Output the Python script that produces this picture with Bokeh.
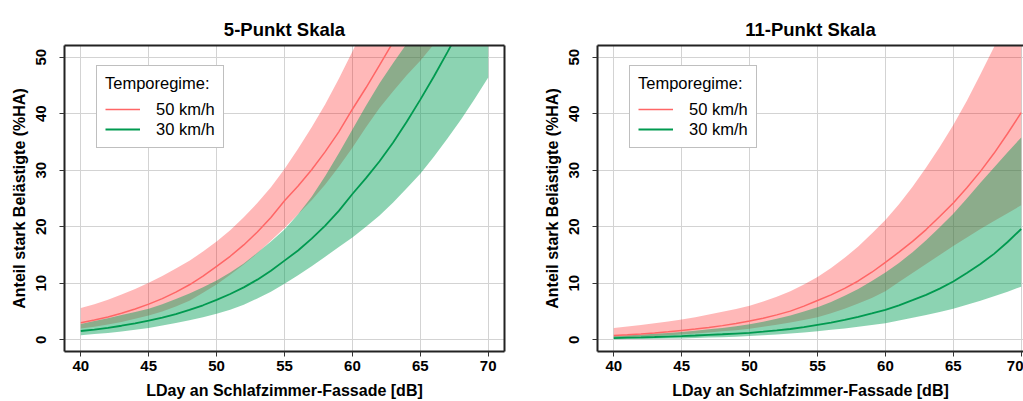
from bokeh.plotting import figure
from bokeh.layouts import row
from bokeh.models import Range1d, FixedTicker, Legend, LegendItem, LinearAxis
from bokeh.embed import file_html
from bokeh.resources import INLINE

# ---------------- data ----------------
ldb = [40, 41, 42, 43, 44, 45, 46, 47, 48, 49, 50, 51, 52, 53, 54, 55,
       56, 57, 58, 59, 60, 61, 62, 63, 64, 65, 66, 67, 68, 69, 70]
x_ticks = [40, 45, 50, 55, 60, 65, 70]
y_ticks = [0, 10, 20, 30, 40, 50]

# 5-Punkt Skala
p5_50_mid = [3.0, 3.48, 4.04, 4.68, 5.43, 6.3, 7.28, 8.42, 9.73, 11.25, 13.0, 14.77, 16.78, 19.06,
             21.65, 24.6, 27.2, 30.1, 33.3, 36.8, 40.8, 44.6, 48.6, 52.7, 56.8, 60.8, 64.6, 68.3,
             71.7, 74.9, 77.9]
p5_50_hi = [5.6, 6.3, 7.1, 8.0, 9.0, 10.1, 11.3, 12.6, 14.0, 15.6, 17.4, 19.4, 21.7, 24.2, 27.0,
            30.2, 33.8, 37.6, 41.7, 46.2, 51.0, 56.0, 61.0, 66.0, 70.5, 75.0, 79.0, 82.5, 85.5,
            88.0, 90.0]
p5_50_lo = [2.0, 2.3, 2.7, 3.15, 3.7, 4.3, 5.0, 5.9, 6.9, 8.3, 9.8, 11.5, 13.3, 15.3, 17.5, 19.8,
            22.2, 24.7, 27.5, 30.6, 34.0, 37.6, 41.0, 44.0, 46.8, 49.4, 52.3, 55.0, 57.7, 60.3, 63.0]
p5_30_mid = [1.55, 1.81, 2.12, 2.48, 2.9, 3.4, 3.93, 4.55, 5.27, 6.1, 7.05, 8.09, 9.27, 10.64,
             12.2, 14.0, 15.8, 17.9, 20.2, 22.8, 25.8, 28.6, 31.6, 34.9, 38.6, 42.5, 46.6, 50.9,
             55.4, 59.8, 64.0]
p5_30_hi = [2.8, 3.3, 3.8, 4.4, 4.9, 5.5, 6.3, 7.2, 8.2, 9.3, 10.5, 11.9, 13.5, 15.4, 17.4, 19.5,
            22.2, 25.3, 29.0, 33.0, 37.2, 41.4, 45.4, 49.0, 52.4, 55.6, 58.7, 61.6, 64.4, 67.0, 69.5]
p5_30_lo = [0.8, 1.0, 1.2, 1.45, 1.75, 2.1, 2.5, 2.95, 3.45, 4.0, 4.6, 5.3, 6.2, 7.3, 8.5, 9.9,
            11.4, 13.0, 14.7, 16.4, 18.1, 20.0, 22.0, 24.3, 26.8, 29.4, 32.4, 35.6, 39.0, 42.6, 46.4]

# 11-Punkt Skala
p11_50_mid = [0.76, 0.88, 1.02, 1.18, 1.4, 1.65, 1.9, 2.18, 2.5, 2.87, 3.3, 3.82, 4.4, 5.07, 5.95,
              6.95, 7.95, 9.1, 10.4, 11.95, 13.7, 15.5, 17.4, 19.5, 21.8, 24.2, 26.9, 29.8, 33.0,
              36.5, 40.2]
p11_50_hi = [2.1, 2.35, 2.6, 2.9, 3.25, 3.6, 4.0, 4.45, 4.95, 5.45, 6.0, 6.75, 7.6, 8.6, 9.8, 11.1,
             12.7, 14.5, 16.5, 18.8, 21.2, 24.0, 27.1, 30.5, 34.1, 38.0, 42.3, 47.0, 51.8, 57.0, 62.0]
p11_50_lo = [0.35, 0.45, 0.55, 0.67, 0.8, 0.94, 1.1, 1.3, 1.5, 1.7, 1.94, 2.3, 2.65, 3.05, 3.5,
             4.0, 4.7, 5.5, 6.4, 7.4, 8.6, 10.2, 11.8, 13.4, 15.0, 16.6, 18.1, 19.6, 21.0, 22.4, 23.8]
p11_30_mid = [0.3, 0.36, 0.42, 0.49, 0.57, 0.65, 0.75, 0.86, 0.97, 1.1, 1.23, 1.42, 1.65, 1.9,
              2.25, 2.65, 3.05, 3.5, 4.05, 4.65, 5.3, 6.1, 7.0, 7.95, 9.05, 10.3, 11.8, 13.4, 15.2,
              17.3, 19.6]
p11_30_hi = [0.65, 0.78, 0.9, 1.05, 1.2, 1.38, 1.6, 1.85, 2.1, 2.4, 2.75, 3.2, 3.7, 4.3, 5.0, 5.75,
             6.7, 7.8, 9.0, 10.4, 11.9, 13.6, 15.5, 17.6, 19.9, 22.3, 25.0, 27.8, 30.5, 33.2, 35.8]
p11_30_lo = [0.1, 0.12, 0.15, 0.18, 0.2, 0.23, 0.3, 0.38, 0.46, 0.55, 0.65, 0.8, 0.95, 1.1, 1.3,
             1.5, 1.75, 2.0, 2.3, 2.6, 2.9, 3.4, 3.9, 4.4, 4.9, 5.5, 6.2, 6.9, 7.7, 8.5, 9.4]

titles = ["5-Punkt Skala", "11-Punkt Skala"]
x_label = "LDay an Schlafzimmer-Fassade [dB]"
y_label = "Anteil stark Belästigte (%HA)"
legend_title = "Temporegime:"
series_labels = ["50 km/h", "30 km/h"]

# ---------------- style ----------------
FONT = "Liberation Sans"
RED_FILL = "#FF0000"
RED_LINE = "#FF6666"
GREEN_FILL = "#009E55"
GREEN_LINE = "#009A50"
FRAME = "#222222"
GRID = "#D3D3D3"


def style_axis(ax, ticks, label_orient=None):
    ax.ticker = FixedTicker(ticks=ticks)
    ax.axis_line_color = FRAME
    ax.axis_line_width = 2
    ax.major_tick_line_color = "#333333"
    ax.major_tick_out = 5
    ax.major_tick_in = 0
    ax.minor_tick_line_color = None
    ax.major_label_text_font = FONT
    ax.major_label_text_font_style = "bold"
    ax.major_label_text_font_size = "15px"
    ax.major_label_text_color = "#000000"
    ax.axis_label_text_font = FONT
    ax.axis_label_text_font_style = "bold"
    ax.axis_label_text_font_size = "16px"
    ax.axis_label_text_color = "#000000"
    if label_orient is not None:
        ax.major_label_orientation = label_orient


def empty_axis():
    ax = LinearAxis(ticker=FixedTicker(ticks=[]))
    ax.axis_line_color = FRAME
    ax.axis_line_width = 2
    ax.major_tick_line_color = None
    ax.minor_tick_line_color = None
    ax.major_label_text_font_size = "0px"
    ax.major_label_standoff = 0
    return ax


def make_panel(title, mid50, lo50, hi50, mid30, lo30, hi30,
               width, border_left, border_right, x_end, right_edge, title_offset):
    p = figure(width=width, height=401,
               x_range=Range1d(38.8, x_end), y_range=Range1d(-2.08, 52.08),
               output_backend="svg", toolbar_location=None,
               min_border_left=border_left, min_border_right=border_right,
               min_border_top=45, min_border_bottom=50,
               x_axis_label=x_label, y_axis_label=y_label)
    p.outline_line_color = None
    p.background_fill_color = "white"
    p.border_fill_color = "white"

    p.title.text = title
    p.title.align = "center"
    p.title.text_font = FONT
    p.title.text_font_style = "bold"
    p.title.text_font_size = "18.5px"
    p.title.text_color = "#000000"
    p.title.standoff = 12
    p.title.offset = title_offset

    style_axis(p.xaxis[0], x_ticks)
    p.xaxis[0].major_label_standoff = 4
    p.xaxis[0].axis_label_standoff = 8
    style_axis(p.yaxis[0], y_ticks, "vertical")
    p.yaxis[0].major_label_standoff = 13
    p.yaxis[0].axis_label_standoff = 6

    p.add_layout(empty_axis(), "above")
    if right_edge:
        p.add_layout(empty_axis(), "right")

    p.xgrid.ticker = FixedTicker(ticks=x_ticks)
    p.ygrid.ticker = FixedTicker(ticks=y_ticks)
    p.xgrid.grid_line_color = GRID
    p.ygrid.grid_line_color = GRID
    p.xgrid.grid_line_width = 1
    p.ygrid.grid_line_width = 1

    p.varea(x=ldb, y1=lo50, y2=hi50, fill_color=RED_FILL, fill_alpha=0.28)
    p.varea(x=ldb, y1=lo30, y2=hi30, fill_color=GREEN_FILL, fill_alpha=0.45)
    r50 = p.line(ldb, mid50, line_color=RED_LINE, line_width=1.5)
    r30 = p.line(ldb, mid30, line_color=GREEN_LINE, line_width=1.8)

    legend = Legend(items=[LegendItem(label=series_labels[0], renderers=[r50]),
                           LegendItem(label=series_labels[1], renderers=[r30])],
                    location=(32, 203))
    legend.title = legend_title
    legend.title_text_font = FONT
    legend.title_text_font_size = "16.5px"
    legend.title_text_font_style = "normal"
    legend.title_text_color = "#000000"
    legend.title_standoff = 6
    legend.label_text_font = FONT
    legend.label_text_font_size = "16.5px"
    legend.label_text_color = "#000000"
    legend.glyph_width = 35
    legend.glyph_height = 20
    legend.label_height = 20
    legend.label_standoff = 16
    legend.padding = 8
    legend.spacing = 0
    legend.margin = 0
    legend.border_line_color = "#808080"
    legend.border_line_width = 1
    legend.background_fill_color = "white"
    legend.background_fill_alpha = 1
    p.add_layout(legend)
    return p


p1 = make_panel(titles[0], p5_50_mid, p5_50_lo, p5_50_hi, p5_30_mid, p5_30_lo, p5_30_hi,
                width=512, border_left=64, border_right=8, x_end=71.2, right_edge=True,
                title_offset=0)
p2 = make_panel(titles[1], p11_50_mid, p11_50_lo, p11_50_hi, p11_30_mid, p11_30_lo, p11_30_hi,
                width=511, border_left=85, border_right=0, x_end=70.17, right_edge=False,
                title_offset=6)

layout = row(p1, p2)
with open("out.html", "w") as f:
    f.write(file_html(layout, INLINE))
